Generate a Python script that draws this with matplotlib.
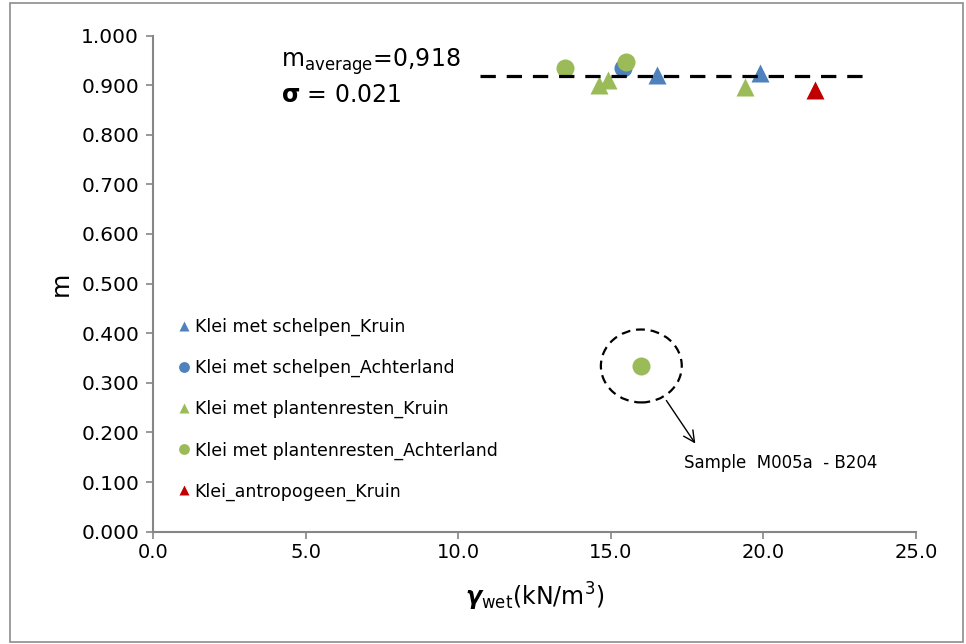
import numpy as np
import matplotlib
matplotlib.use('Agg')
import matplotlib.pyplot as plt
from matplotlib import patches

# data
schelpen_kruin_x = [16.5, 19.9]
schelpen_kruin_m = [0.920, 0.925]
schelpen_achter_x = [15.4]
schelpen_achter_m = [0.935]
planten_kruin_x = [14.6, 14.9, 19.4]
planten_kruin_m = [0.900, 0.910, 0.896]
planten_achter_x = [13.5, 15.5, 16.0]
planten_achter_m = [0.935, 0.946, 0.334]
antropogeen_x = [21.7]
antropogeen_m = [0.890]

m_avg = 0.918
avg_x = [10.73, 23.32]
outlier = (16.0, 0.334)

xticks = [0, 5, 10, 15, 20, 25]
yticks = np.arange(0, 1.01, 0.1)

blue = '#4F81BD'
green = '#9BBB59'
red = '#C00000'

fig = plt.figure(figsize=(9.66, 6.44), dpi=100)
ax = fig.add_axes([153/966, 1 - 531.7/644, 763/966, 496.2/644])

fig.patches.append(patches.Rectangle((10/966, 2/644), 953/966, 639/644, transform=fig.transFigure,
                                     fill=False, ec='#8c8c8c', lw=1.2))

ms = 13
ax.plot(schelpen_kruin_x, schelpen_kruin_m, '^', color=blue, ms=ms, mec='none', label='Klei met schelpen_Kruin', zorder=2)
ax.plot(schelpen_achter_x, schelpen_achter_m, 'o', color=blue, ms=ms, mec='none', label='Klei met schelpen_Achterland', zorder=2)
ax.plot(planten_kruin_x, planten_kruin_m, '^', color=green, ms=ms, mec='none', label='Klei met plantenresten_Kruin', zorder=2)
ax.plot(planten_achter_x, planten_achter_m, 'o', color=green, ms=ms, mec='none', label='Klei met plantenresten_Achterland', zorder=2)
ax.plot(antropogeen_x, antropogeen_m, '^', color=red, ms=ms, mec='none', label='Klei_antropogeen_Kruin', zorder=2)

ax.plot(avg_x, [m_avg, m_avg], color='black', lw=2.3, ls=(0, (4.8, 3.4)), zorder=3)

ell = patches.Ellipse(outlier, 2.65, 0.147, fill=False, ec='black', lw=1.6, ls=(0, (4, 2.6)))
ax.add_patch(ell)
ax.annotate('', xy=(17.82, 0.173), xytext=(16.77, 0.269),
            arrowprops=dict(arrowstyle='->', color='black', lw=1, mutation_scale=20))
ax.text(17.4, 0.138, 'Sample  M005a  - B204', fontsize=12, va='center', ha='left')

ax.text(4.2, 0.948, r'm$_{\mathrm{average}}$=0,918', fontsize=17, va='center', ha='left')
ax.text(4.2, 0.880, r'$\mathbf{\sigma}$ = 0.021', fontsize=17, va='center', ha='left')

ax.set_xlim(0, 25)
ax.set_ylim(0, 1.0)
ax.set_xticks(xticks)
ax.set_xticklabels(['%.1f' % v for v in xticks], fontsize=14)
ax.set_yticks(yticks)
ax.set_yticklabels(['%.3f' % v for v in yticks], fontsize=14.5)

for s in ['top', 'right']:
    ax.spines[s].set_visible(False)
for s in ['left', 'bottom']:
    ax.spines[s].set_color('#868686')
    ax.spines[s].set_linewidth(1.5)
ax.tick_params(axis='both', direction='out', length=5, width=1.2, color='#868686')
ax.tick_params(axis='y', pad=5)
ax.tick_params(axis='x', pad=3)

ax.set_ylabel('m', fontsize=18, labelpad=6)
ax.set_xlabel(r'$\boldsymbol{\gamma}_{\mathrm{wet}}$(kN/m$^3$)', fontsize=17, labelpad=14)

leg = ax.legend(loc='upper left', bbox_to_anchor=(0.025, 0.445), frameon=False, fontsize=12.5,
                markerscale=0.6, handlelength=0.6, handletextpad=0.3, labelspacing=1.32,
                borderaxespad=0)

fig.savefig('out.png', dpi=100)
